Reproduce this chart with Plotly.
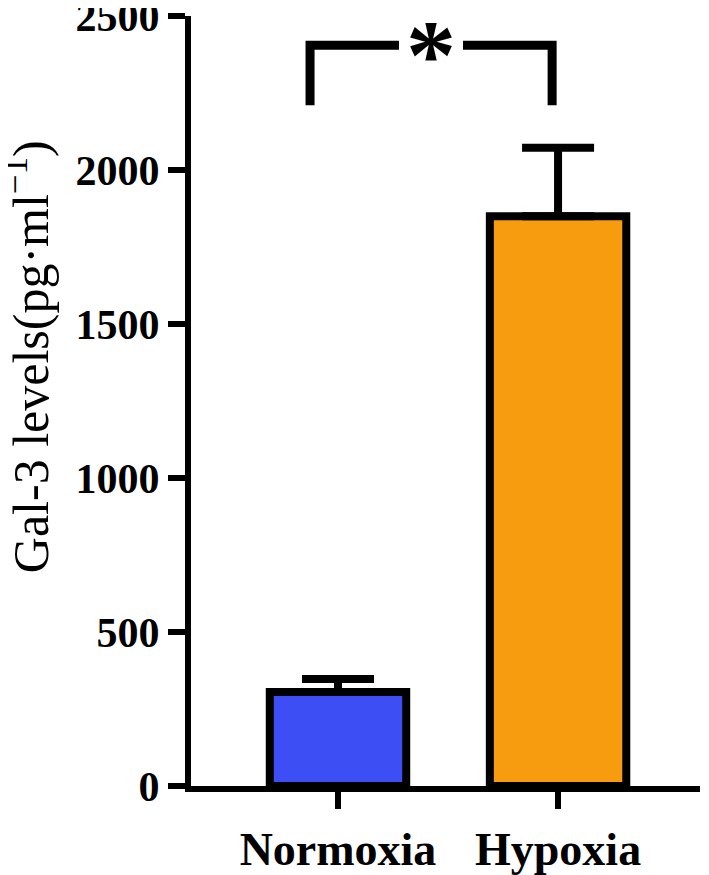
import plotly.graph_objects as go

# data
groups = ["Normoxia", "Hypoxia"]
means = [305, 1850]
sem = [42, 222]
bar_colors = ["#3d4ef5", "#f79c0e"]
y_ticks = [0, 500, 1000, 1500, 2000, 2500]

# significance bracket (Normoxia vs Hypoxia)
sig_label = "*"
sig_top = 2405
sig_foot = 2210
sig_x = (-0.127, 0.973)
sig_gap = (0.277, 0.568)

SERIF = "Liberation Serif"
INK = "black"

xpos = list(range(len(groups)))

fig = go.Figure()

fig.add_trace(go.Bar(
    x=xpos, y=means,
    width=0.62,
    marker=dict(color=bar_colors, line=dict(color=INK, width=8)),
    error_y=dict(type="data", array=sem, arrayminus=[0] * len(sem),
                 symmetric=False, color=INK, thickness=8, width=36),
    showlegend=False, hoverinfo="skip",
))

# bracket: two feet and a top line broken around the star
x0, x1 = sig_x
g0, g1 = sig_gap
LW = 9
for xs, ys in (
    ([x0, x0, g0], [sig_foot, sig_top, sig_top]),
    ([g1, x1, x1], [sig_top, sig_top, sig_foot]),
):
    fig.add_trace(go.Scatter(
        x=xs, y=ys, mode="lines",
        line=dict(color=INK, width=LW),
        showlegend=False, hoverinfo="skip", cliponaxis=False,
    ))

fig.add_annotation(
    x=(g0 + g1) / 2, y=sig_top, text=sig_label,
    showarrow=False, yanchor="middle", yshift=-9,
    font=dict(family=SERIF, size=100, color=INK, weight="bold"),
)

# y axis title as annotation for exact placement
fig.add_annotation(
    xref="paper", yref="paper", x=-0.322, y=0.557,
    xanchor="center", yanchor="middle",
    text="Gal-3 levels(pg·ml<sup>−1</sup>)",
    textangle=-90, showarrow=False,
    font=dict(family=SERIF, size=50, color=INK),
)

# the page body adds an 8px offset, so the figure is 8px smaller
fig.update_layout(
    width=701, height=867,
    margin=dict(l=183, r=9, t=8, b=89),
    paper_bgcolor="white", plot_bgcolor="white",
)

fig.update_xaxes(
    range=[-0.668, 1.645],
    tickvals=xpos, ticktext=groups,
    showline=True, linecolor=INK, linewidth=6,
    ticks="outside", ticklen=17, tickwidth=6, tickcolor=INK,
    tickfont=dict(family=SERIF, size=46, color=INK, weight="bold"),
    ticklabelstandoff=1, automargin=False,
    showgrid=False, zeroline=False,
)

fig.update_yaxes(
    range=[0, 2500],
    tickvals=y_ticks,
    showline=True, linecolor=INK, linewidth=6,
    ticks="outside", ticklen=17, tickwidth=6, tickcolor=INK,
    tickfont=dict(family=SERIF, size=42, color=INK, weight="bold"),
    ticklabeloverflow="allow", automargin=False,
    showgrid=False, zeroline=False,
)

fig.write_html("out.html")
